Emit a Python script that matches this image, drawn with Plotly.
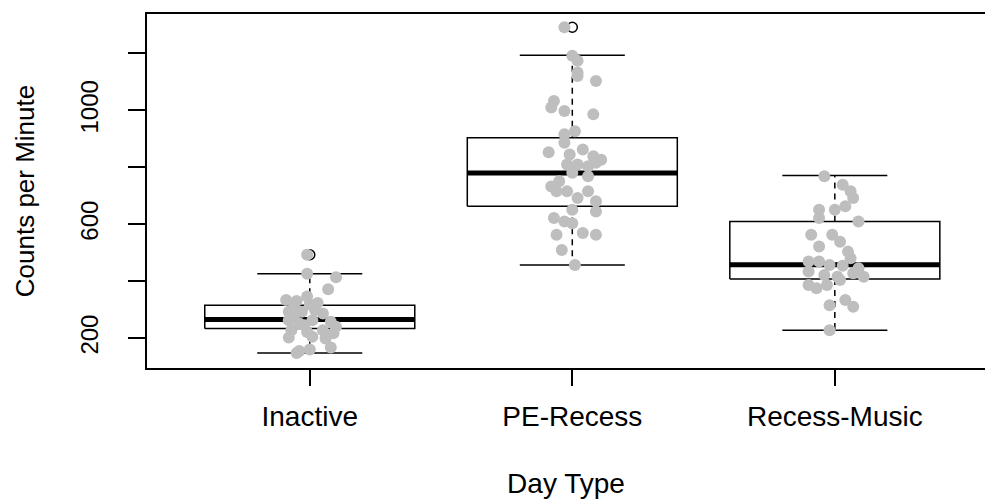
import plotly.graph_objects as go

# ---- data ----
categories = ["Inactive", "PE-Recess", "Recess-Music"]

# box statistics: lower whisker, Q1, median, Q3, upper whisker
lower_whisker = [148, 457, 228]
q1 = [234, 663, 408]
median = [266, 780, 458]
q3 = [316, 904, 610]
upper_whisker = [426, 1194, 771]
outliers = [[493], [1292], []]

# jittered observations (values) and their horizontal jitter (category units)
inactive_vals = [493, 426, 414, 372, 334, 331, 346, 324, 293, 293, 299, 287, 263,
                 252, 263, 258, 240, 228, 222, 228, 217, 202, 205, 199, 155, 160,
                 167, 148, 310, 275, 245, 318]
inactive_jit = [-0.01, -0.01, 0.10, 0.07, -0.09, -0.05, -0.01, 0.03, -0.08, -0.03,
                0.02, 0.05, -0.08, -0.04, 0.01, 0.08, 0.10, -0.07, -0.01, 0.05,
                0.09, -0.08, 0.01, 0.06, -0.04, 0.00, 0.08, -0.05, -0.06, -0.06,
                -0.02, 0.00]

pe_vals = [1292, 1192, 1174, 1133, 1121, 1103, 1033, 1010, 998, 986, 927, 916, 886,
           853, 863, 845, 839, 827, 810, 810, 804, 816, 781, 769, 751, 733, 716,
           716, 716, 692, 681, 651, 645, 622, 610, 604, 563, 569, 563, 510, 457]
pe_jit = [-0.03, 0.00, 0.02, 0.02, 0.02, 0.09, -0.07, -0.08, -0.03, 0.08, 0.01,
          -0.03, -0.03, -0.09, 0.04, -0.01, 0.08, 0.11, -0.02, 0.02, 0.06, 0.09,
          0.00, 0.06, -0.05, -0.08, -0.06, -0.02, 0.06, 0.02, 0.09, 0.00, 0.09,
          -0.07, -0.03, 0.00, -0.06, 0.04, 0.09, -0.04, 0.01]

music_vals = [769, 739, 716, 692, 663, 651, 651, 622, 610, 563, 563, 539, 522, 504,
              481, 469, 469, 457, 454, 446, 434, 422, 416, 428, 416, 387, 375, 387,
              404, 316, 334, 310, 228]
music_jit = [-0.04, 0.03, 0.06, 0.07, 0.04, 0.00, -0.06, -0.06, 0.09, -0.09, -0.01,
             0.02, -0.06, 0.05, 0.06, -0.10, -0.06, -0.02, 0.03, 0.09, -0.10, -0.04,
             0.01, 0.07, 0.11, -0.10, -0.07, -0.03, 0.02, -0.02, 0.04, 0.07, -0.02]

group_vals = [inactive_vals, pe_vals, music_vals]
group_jit = [inactive_jit, pe_jit, music_jit]

y_ticks = [200, 400, 600, 800, 1000, 1200]
y_tick_text = ["200", "", "600", "", "1000", ""]

# ---- figure ----
FONT = "Liberation Sans, Arial, sans-serif"
FS = 28
BOX_HALF = 0.4
CAP_HALF = 0.2

rect_x, rect_y, med_x, med_y = [], [], [], []
wh_x, wh_y, cap_x, cap_y = [], [], [], []
out_x, out_y = [], []
for i in range(len(categories)):
    c = i + 1
    rect_x += [c - BOX_HALF, c + BOX_HALF, c + BOX_HALF, c - BOX_HALF, c - BOX_HALF, None]
    rect_y += [q1[i], q1[i], q3[i], q3[i], q1[i], None]
    med_x += [c - BOX_HALF, c + BOX_HALF, None]
    med_y += [median[i], median[i], None]
    wh_x += [c, c, None, c, c, None]
    wh_y += [q3[i], upper_whisker[i], None, q1[i], lower_whisker[i], None]
    cap_x += [c - CAP_HALF, c + CAP_HALF, None, c - CAP_HALF, c + CAP_HALF, None]
    cap_y += [upper_whisker[i], upper_whisker[i], None, lower_whisker[i], lower_whisker[i], None]
    for o in outliers[i]:
        out_x.append(c)
        out_y.append(o)

fig = go.Figure()
fig.add_trace(go.Scatter(x=wh_x, y=wh_y, mode="lines",
                         line=dict(color="black", width=1.5, dash="6px,5px"), hoverinfo="skip"))
fig.add_trace(go.Scatter(x=cap_x, y=cap_y, mode="lines",
                         line=dict(color="black", width=1.5), hoverinfo="skip"))
fig.add_trace(go.Scatter(x=rect_x, y=rect_y, mode="lines",
                         line=dict(color="black", width=1.5), hoverinfo="skip"))
fig.add_trace(go.Scatter(x=med_x, y=med_y, mode="lines",
                         line=dict(color="black", width=5), hoverinfo="skip"))
fig.add_trace(go.Scatter(x=out_x, y=out_y, mode="markers",
                         marker=dict(symbol="circle-open", size=10, color="black",
                                     line=dict(width=1.5, color="black"))))

for i in range(len(categories)):
    xs = [i + 1 + j for j in group_jit[i]]
    fig.add_trace(go.Scatter(x=xs, y=group_vals[i], mode="markers",
                             marker=dict(size=12, color="#BEBEBE", line=dict(width=0))))

fig.update_layout(
    width=985, height=500,
    margin=dict(l=147, r=0, t=14, b=132),
    paper_bgcolor="white", plot_bgcolor="white",
    showlegend=False,
    font=dict(family=FONT, size=FS, color="black"),
)
fig.update_xaxes(
    range=[0.38, 3.572], automargin=False,
    tickvals=[1, 2, 3], ticktext=categories,
    ticks="outside", ticklen=16, tickwidth=1.5, tickcolor="black",
    ticklabelstandoff=7,
    showline=True, linecolor="black", linewidth=1.5, mirror=True,
    showgrid=False, zeroline=False,
    tickfont=dict(family=FONT, size=FS),
    title=dict(text="Day Type", font=dict(family=FONT, size=FS), standoff=42),
)
fig.update_yaxes(
    range=[95.3, 1338.5], automargin=False,
    tickvals=y_ticks, ticktext=y_tick_text, tickangle=-90,
    ticks="outside", ticklen=17, tickwidth=1.5, tickcolor="black",
    ticklabelstandoff=21,
    showline=True, linecolor="black", linewidth=1.5, mirror=False,
    showgrid=False, zeroline=False,
    tickfont=dict(family=FONT, size=24),
    title=dict(text="Counts per Minute", font=dict(family=FONT, size=26), standoff=34),
)

fig.write_html("out.html", config={"displayModeBar": False},
               post_script="document.body.style.margin='0';")
